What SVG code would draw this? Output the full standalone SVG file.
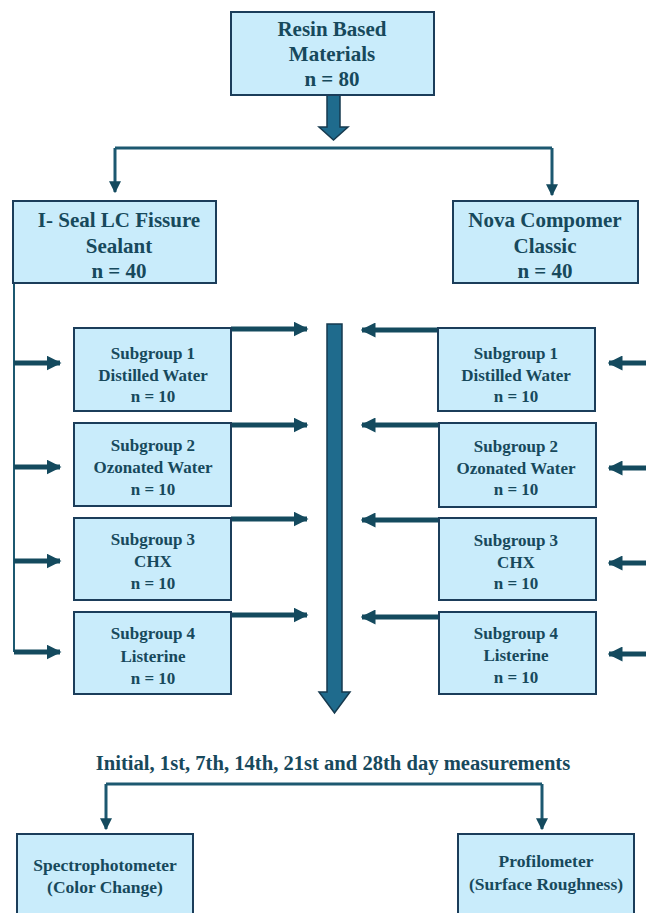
<svg xmlns="http://www.w3.org/2000/svg" width="646" height="913" viewBox="0 0 646 913">
<defs>
<style>
.box{fill:#c9ecfb;stroke:#1b3d5a;stroke-width:2}
.ln{fill:none;stroke:#1c5870;stroke-width:3}
.thin{fill:none;stroke:#1c5870;stroke-width:2}
.fat{fill:none;stroke:#144a5e;stroke-width:5}
.bigarrow{fill:#1f6b8d;stroke:#163a4f;stroke-width:1.5}
</style>
<marker id="ah" viewBox="0 0 10 10" refX="9" refY="5" markerWidth="3" markerHeight="3" orient="auto" markerUnits="strokeWidth">
<path d="M0,0 L10,5 L0,10 z" fill="#144a5e"/>
</marker>
<marker id="ah2" viewBox="0 0 10 10" refX="9" refY="5" markerWidth="4" markerHeight="4" orient="auto" markerUnits="strokeWidth">
<path d="M0,0 L10,5 L0,10 z" fill="#144a5e"/>
</marker>
</defs>
<rect width="646" height="913" fill="#fff"/>

<g id="connectors">
<path class="bigarrow" d="M327,95 L340,95 L340,127 L348,127 L333.5,140 L319,127 L327,127 Z"/>
<path class="ln" d="M115,148 L552,148"/>
<path class="ln" d="M115,148 L115,192" marker-end="url(#ah2)"/>
<path class="ln" d="M552,148 L552,195" marker-end="url(#ah2)"/>
<path class="thin" d="M14,283 L14,652"/>
<path class="fat" d="M14,363 L60,363" marker-end="url(#ah)"/>
<path class="fat" d="M14,467 L60,467" marker-end="url(#ah)"/>
<path class="fat" d="M14,561 L60,561" marker-end="url(#ah)"/>
<path class="fat" d="M14,652 L60,652" marker-end="url(#ah)"/>
<path class="fat" d="M231,329 L307,329" marker-end="url(#ah)"/>
<path class="fat" d="M231,425 L307,425" marker-end="url(#ah)"/>
<path class="fat" d="M231,519 L307,519" marker-end="url(#ah)"/>
<path class="fat" d="M231,615 L307,615" marker-end="url(#ah)"/>
<path class="fat" d="M438,330 L362,330" marker-end="url(#ah)"/>
<path class="fat" d="M438,425 L362,425" marker-end="url(#ah)"/>
<path class="fat" d="M438,520 L362,520" marker-end="url(#ah)"/>
<path class="fat" d="M438,617 L362,617" marker-end="url(#ah)"/>
<path class="fat" d="M646,363 L609,363" marker-end="url(#ah)"/>
<path class="fat" d="M646,468 L609,468" marker-end="url(#ah)"/>
<path class="fat" d="M646,563 L609,563" marker-end="url(#ah)"/>
<path class="fat" d="M646,654 L609,654" marker-end="url(#ah)"/>
<path class="bigarrow" d="M327,324 L342,324 L342,692 L350,692 L334.5,713 L319,692 L327,692 Z"/>
<path class="ln" d="M106,784 L542,784"/>
<path class="ln" d="M106,784 L106,829" marker-end="url(#ah2)"/>
<path class="ln" d="M542,784 L542,829" marker-end="url(#ah2)"/>
</g>

<g id="resin">
<rect class="box" x="231" y="12" width="203" height="83"/>
<text font-family="serif" font-weight="bold" font-size="21" fill="#17495c" text-anchor="middle" x="332" y="36">Resin Based</text>
<text font-family="serif" font-weight="bold" font-size="21" fill="#17495c" text-anchor="middle" x="332" y="61">Materials</text>
<text font-family="serif" font-weight="bold" font-size="21" fill="#17495c" text-anchor="middle" x="332" y="86">n = 80</text>
</g>

<g id="iseal">
<rect class="box" x="13" y="201" width="203" height="82"/>
<text font-family="serif" font-weight="bold" font-size="21" fill="#17495c" text-anchor="middle" x="119" y="227">I- Seal LC Fissure</text>
<text font-family="serif" font-weight="bold" font-size="21" fill="#17495c" text-anchor="middle" x="119" y="253">Sealant</text>
<text font-family="serif" font-weight="bold" font-size="21" fill="#17495c" text-anchor="middle" x="119" y="278">n = 40</text>
</g>

<g id="nova">
<rect class="box" x="453" y="201" width="185" height="82"/>
<text font-family="serif" font-weight="bold" font-size="21" fill="#17495c" text-anchor="middle" x="545" y="227">Nova Compomer</text>
<text font-family="serif" font-weight="bold" font-size="21" fill="#17495c" text-anchor="middle" x="545" y="253">Classic</text>
<text font-family="serif" font-weight="bold" font-size="21" fill="#17495c" text-anchor="middle" x="545" y="278">n = 40</text>
</g>

<g id="l1"><rect class="box" x="74" y="328" width="157" height="83"/>
<text font-family="serif" font-weight="bold" font-size="17" fill="#17495c" text-anchor="middle" x="153" y="359">Subgroup 1</text>
<text font-family="serif" font-weight="bold" font-size="17" fill="#17495c" text-anchor="middle" x="153" y="381">Distilled Water</text>
<text font-family="serif" font-weight="bold" font-size="17" fill="#17495c" text-anchor="middle" x="153" y="402">n = 10</text></g>
<g id="l2"><rect class="box" x="74" y="423" width="157" height="83"/>
<text font-family="serif" font-weight="bold" font-size="17" fill="#17495c" text-anchor="middle" x="153" y="451">Subgroup 2</text>
<text font-family="serif" font-weight="bold" font-size="17" fill="#17495c" text-anchor="middle" x="153" y="473">Ozonated Water</text>
<text font-family="serif" font-weight="bold" font-size="17" fill="#17495c" text-anchor="middle" x="153" y="495">n = 10</text></g>
<g id="l3"><rect class="box" x="74" y="518" width="157" height="82"/>
<text font-family="serif" font-weight="bold" font-size="17" fill="#17495c" text-anchor="middle" x="153" y="545">Subgroup 3</text>
<text font-family="serif" font-weight="bold" font-size="17" fill="#17495c" text-anchor="middle" x="153" y="567">CHX</text>
<text font-family="serif" font-weight="bold" font-size="17" fill="#17495c" text-anchor="middle" x="153" y="589">n = 10</text></g>
<g id="l4"><rect class="box" x="74" y="612" width="157" height="82"/>
<text font-family="serif" font-weight="bold" font-size="17" fill="#17495c" text-anchor="middle" x="153" y="639">Subgroup 4</text>
<text font-family="serif" font-weight="bold" font-size="17" fill="#17495c" text-anchor="middle" x="153" y="662">Listerine</text>
<text font-family="serif" font-weight="bold" font-size="17" fill="#17495c" text-anchor="middle" x="153" y="684">n = 10</text></g>

<g id="r1"><rect class="box" x="438" y="328" width="157" height="83"/>
<text font-family="serif" font-weight="bold" font-size="17" fill="#17495c" text-anchor="middle" x="516" y="359">Subgroup 1</text>
<text font-family="serif" font-weight="bold" font-size="17" fill="#17495c" text-anchor="middle" x="516" y="381">Distilled Water</text>
<text font-family="serif" font-weight="bold" font-size="17" fill="#17495c" text-anchor="middle" x="516" y="402">n = 10</text></g>
<g id="r2"><rect class="box" x="439" y="423" width="157" height="84"/>
<text font-family="serif" font-weight="bold" font-size="17" fill="#17495c" text-anchor="middle" x="516" y="452">Subgroup 2</text>
<text font-family="serif" font-weight="bold" font-size="17" fill="#17495c" text-anchor="middle" x="516" y="474">Ozonated Water</text>
<text font-family="serif" font-weight="bold" font-size="17" fill="#17495c" text-anchor="middle" x="516" y="495">n = 10</text></g>
<g id="r3"><rect class="box" x="439" y="518" width="157" height="82"/>
<text font-family="serif" font-weight="bold" font-size="17" fill="#17495c" text-anchor="middle" x="516" y="546">Subgroup 3</text>
<text font-family="serif" font-weight="bold" font-size="17" fill="#17495c" text-anchor="middle" x="516" y="568">CHX</text>
<text font-family="serif" font-weight="bold" font-size="17" fill="#17495c" text-anchor="middle" x="516" y="589">n = 10</text></g>
<g id="r4"><rect class="box" x="439" y="612" width="157" height="82"/>
<text font-family="serif" font-weight="bold" font-size="17" fill="#17495c" text-anchor="middle" x="516" y="639">Subgroup 4</text>
<text font-family="serif" font-weight="bold" font-size="17" fill="#17495c" text-anchor="middle" x="516" y="661">Listerine</text>
<text font-family="serif" font-weight="bold" font-size="17" fill="#17495c" text-anchor="middle" x="516" y="683">n = 10</text></g>

<g id="measure">
<text font-family="serif" font-weight="bold" font-size="20.6" fill="#17495c" text-anchor="middle" x="333" y="770">Initial, 1st, 7th, 14th, 21st and 28th day measurements</text>
</g>

<g id="spectro"><rect class="box" x="17" y="834" width="176" height="90"/>
<text font-family="serif" font-weight="bold" font-size="17.5" fill="#17495c" text-anchor="middle" x="105" y="871">Spectrophotometer</text>
<text font-family="serif" font-weight="bold" font-size="17.5" fill="#17495c" text-anchor="middle" x="105" y="893">(Color Change)</text></g>
<g id="profilo"><rect class="box" x="458" y="834" width="176" height="90"/>
<text font-family="serif" font-weight="bold" font-size="17.5" fill="#17495c" text-anchor="middle" x="546" y="867">Profilometer</text>
<text font-family="serif" font-weight="bold" font-size="17.5" fill="#17495c" text-anchor="middle" x="546" y="890">(Surface Roughness)</text></g>
</svg>
